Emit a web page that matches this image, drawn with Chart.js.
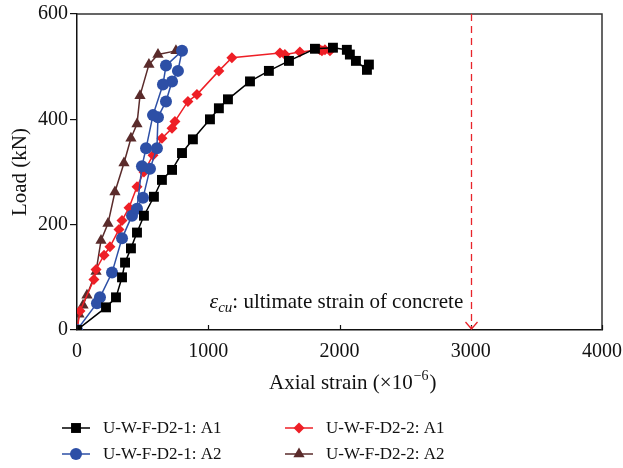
<!DOCTYPE html>
<html>
<head>
<meta charset="utf-8">
<script src="https://cdn.jsdelivr.net/npm/chart.js@4.4.1/dist/chart.umd.min.js"></script>
<style>
  html, body { margin: 0; padding: 0; background: #fff; }
  #wrap { width: 623px; height: 468px; }
</style>
</head>
<body>
<div id="wrap"><canvas id="chart" width="623" height="468"></canvas></div>
<script>
// axial strain (x10^-6) / load (kN) readings
const strainA1s1 = [0, 221, 297, 343, 366, 411, 457, 510, 586, 647, 724, 800, 883, 1013, 1081, 1150, 1318, 1462, 1615, 1813, 1950, 2056, 2079, 2125, 2209, 2224];
const loadA1s1   = [0, 43, 62, 100, 128, 155, 185, 217, 253, 285, 304, 336, 362, 400, 421, 438, 472, 492, 511, 534, 536, 532, 523, 511, 494, 504];

const strainA2s1 = [0, 152, 175, 267, 343, 419, 503, 556, 609, 617, 678, 724, 769, 800, 678, 655, 579, 526, 495, 457];
const loadA2s1   = [0, 51, 62, 109, 174, 217, 251, 306, 345, 404, 434, 472, 492, 530, 502, 466, 408, 345, 311, 230];

const strainA1s2 = [0, 23, 129, 145, 206, 251, 320, 343, 396, 457, 510, 579, 647, 724, 746, 845, 914, 1081, 1180, 1546, 1584, 1698, 1851, 1927, 1889, 1866];
const loadA1s2   = [0, 36, 96, 115, 142, 158, 191, 208, 232, 272, 300, 332, 364, 383, 396, 434, 447, 492, 517, 526, 523, 528, 532, 530, 532, 530];

const strainA2s2 = [0, 15, 46, 76, 145, 183, 236, 289, 358, 411, 457, 480, 548, 617, 754];
const loadA2s2   = [0, 30, 47, 66, 111, 170, 202, 262, 317, 364, 391, 445, 504, 523, 530];

const seriesNames = ["U-W-F-D2-1: A1", "U-W-F-D2-1: A2", "U-W-F-D2-2: A1", "U-W-F-D2-2: A2"];
const xTicks = [0, 1000, 2000, 3000, 4000];
const yTicks = [0, 200, 400, 600];
const ultimateStrain = 3000;
const ultimateLabel = "ultimate strain of concrete";

const serif = "'Liberation Serif', 'DejaVu Serif', serif";

function pairs(xs, ys) {
  return xs.map((x, i) => ({ x: x, y: ys[i] }));
}

function series(label, xs, ys, color, style, radius) {
  return {
    label: label,
    data: pairs(xs, ys),
    showLine: true,
    borderColor: color,
    backgroundColor: color,
    borderWidth: 1.5,
    pointStyle: style,
    pointRadius: radius,
    pointHoverRadius: radius,
    pointBorderWidth: 0,
    tension: 0,
  };
}

const datasets = [
  series(seriesNames[0], strainA1s1, loadA1s1, "#000000", "rect", 7),
  series(seriesNames[1], strainA2s1, loadA2s1, "#2d4fa6", "circle", 6),
  series(seriesNames[2], strainA1s2, loadA1s2, "#ee1f26", "rectRot", 5.5),
  series(seriesNames[3], strainA2s2, loadA2s2, "#5a2b2b", "triangle", 6.5),
];

// frame, inward x ticks, x title, epsilon_cu marker line and the two-column legend
const extras = {
  id: "extras",
  afterDatasetsDraw(chart) {
    const { ctx, chartArea: a, scales } = chart;
    ctx.save();

    // box on top and right
    ctx.strokeStyle = "#333";
    ctx.lineWidth = 1.5;
    ctx.beginPath();
    ctx.moveTo(a.left, a.top);
    ctx.lineTo(a.right, a.top);
    ctx.lineTo(a.right, a.bottom);
    ctx.stroke();

    // x ticks pointing into the plot
    ctx.strokeStyle = "#111";
    ctx.lineWidth = 1.2;
    xTicks.forEach(v => {
      const px = Math.round(scales.x.getPixelForValue(v)) + 0.5;
      ctx.beginPath();
      ctx.moveTo(px, a.bottom);
      ctx.lineTo(px, a.bottom - 5);
      ctx.stroke();
    });

    // x axis title with a raised exponent
    ctx.fillStyle = "#111";
    ctx.textBaseline = "alphabetic";
    let sx = 269;
    const sy = 389;
    ctx.font = "21px " + serif;
    ctx.fillText("Axial strain (\u00d710", sx, sy);
    sx += ctx.measureText("Axial strain (\u00d710").width;
    ctx.font = "14px " + serif;
    ctx.fillText("\u22126", sx + 1, sy - 9);
    sx += ctx.measureText("\u22126").width + 2;
    ctx.font = "21px " + serif;
    ctx.fillText(")", sx, sy);

    // dashed line at the ultimate strain
    const ux = Math.round(scales.x.getPixelForValue(ultimateStrain)) + 0.5;
    ctx.strokeStyle = "#e8242b";
    ctx.lineWidth = 1.3;
    ctx.setLineDash([7, 5]);
    ctx.beginPath();
    ctx.moveTo(ux, a.top);
    ctx.lineTo(ux, a.bottom - 1);
    ctx.stroke();
    ctx.setLineDash([]);
    ctx.beginPath();
    ctx.moveTo(ux - 6, a.bottom - 8);
    ctx.lineTo(ux, a.bottom - 1);
    ctx.lineTo(ux + 6, a.bottom - 8);
    ctx.stroke();

    // label: eps_cu: ultimate strain of concrete
    const ty = scales.y.getPixelForValue(42);
    let tx = ux - 262;
    ctx.fillStyle = "#111";
    ctx.font = "italic 22px " + serif;
    ctx.fillText("\u03b5", tx, ty);
    tx += ctx.measureText("\u03b5").width;
    ctx.font = "italic 15px " + serif;
    ctx.fillText("cu", tx, ty + 4);
    tx += ctx.measureText("cu").width;
    ctx.font = "21px " + serif;
    ctx.fillText(": " + ultimateLabel, tx, ty);

    // legend
    const cols = [62, 285];
    const rows = [428, 454];
    ctx.font = "17px " + serif;
    ctx.textBaseline = "middle";
    chart.data.datasets.forEach((ds, i) => {
      const lx = cols[Math.floor(i / 2)];
      const ly = rows[i % 2];
      ctx.strokeStyle = ds.borderColor;
      ctx.lineWidth = 1.5;
      ctx.beginPath();
      ctx.moveTo(lx, ly);
      ctx.lineTo(lx + 28, ly);
      ctx.stroke();
      ctx.fillStyle = ds.backgroundColor;
      Chart.helpers.drawPoint(ctx, {
        pointStyle: ds.pointStyle,
        radius: ds.pointRadius,
        rotation: 0,
        borderWidth: 0,
      }, lx + 14, ly);
      ctx.fillStyle = "#111";
      ctx.fillText(ds.label, lx + 41, ly + 1);
    });

    ctx.restore();
  },
};

new Chart(document.getElementById("chart"), {
  type: "scatter",
  data: { datasets: datasets },
  plugins: [extras],
  options: {
    responsive: false,
    animation: false,
    layout: { padding: { left: 8, right: 21, top: 11, bottom: 73 } },
    plugins: {
      legend: { display: false },
      tooltip: { enabled: false },
    },
    scales: {
      x: {
        type: "linear",
        min: 0,
        max: 4000,
        afterBuildTicks: s => { s.ticks = xTicks.map(v => ({ value: v })); },
        afterFit: s => { s.height = 65; s.paddingLeft = 0; s.paddingRight = 0; },
        border: { color: "#111", width: 1.5 },
        grid: { drawOnChartArea: false, drawTicks: false },
        ticks: { color: "#111", padding: 10, maxRotation: 0, autoSkip: false, callback: v => String(v), font: { family: serif, size: 20 } },
        title: { display: false },
      },
      y: {
        type: "linear",
        min: 0,
        max: 600,
        afterBuildTicks: s => { s.ticks = yTicks.map(v => ({ value: v })); },
        afterFit: s => { s.width = 69; },
        border: { color: "#111", width: 1.5 },
        grid: { drawOnChartArea: false, drawTicks: true, tickLength: 7, color: "#111", lineWidth: 1.2 },
        ticks: { color: "#111", padding: 2, callback: v => String(v), font: { family: serif, size: 20 } },
        title: {
          display: true,
          text: "Load (kN)",
          color: "#111",
          padding: { top: 0, bottom: 0 },
          font: { family: serif, size: 21 },
        },
      },
    },
  },
});
</script>
</body>
</html>
